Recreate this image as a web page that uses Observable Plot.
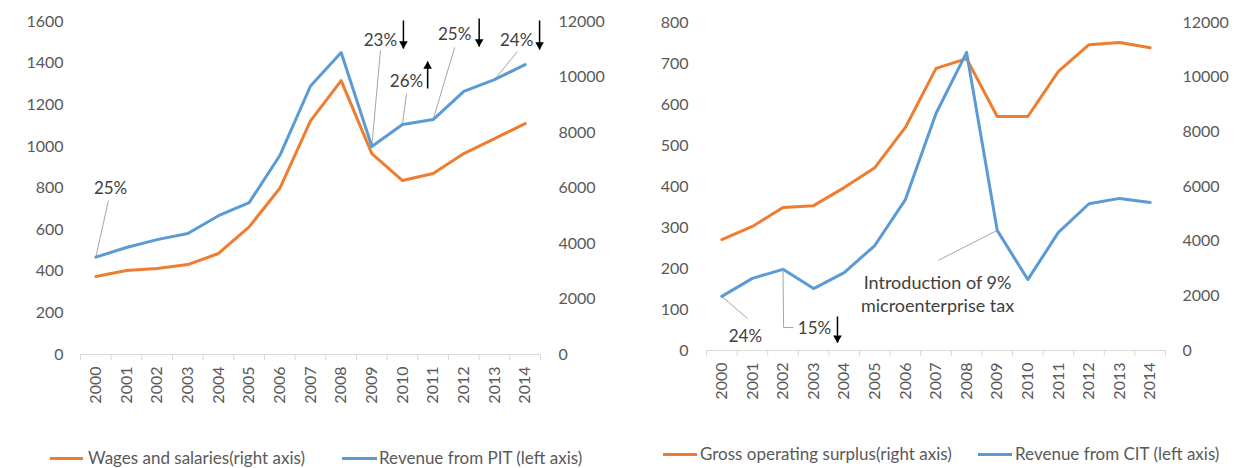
<!DOCTYPE html>
<html><head><meta charset="utf-8">
<script src="https://cdn.jsdelivr.net/npm/d3@7"></script>
<script src="https://cdn.jsdelivr.net/npm/@observablehq/plot@0.6"></script>
<style>
body{margin:0;background:#fff;}
#wrap{position:relative;width:1251px;height:468px;overflow:hidden;background:#fff;}
.chart{position:absolute;top:0;}
.item{position:absolute;display:flex;align-items:center;font:17px/18px Lato,sans-serif;color:#595959;white-space:nowrap;height:18px;}
.sw{display:inline-block;height:3px;}
</style></head><body><div id="wrap"></div>
<script>
const years = ["2000","2001","2002","2003","2004","2005","2006","2007","2008","2009","2010","2011","2012","2013","2014"];
// Left chart
const pitRevenue = [468, 514, 552, 581, 667, 730, 956, 1290, 1451, 999, 1105, 1129, 1264, 1321, 1393];
const wages = [2810, 3030, 3100, 3240, 3640, 4600, 5990, 8420, 9870, 7240, 6270, 6520, 7240, 7780, 8320];
const pitTicks = [0, 200, 400, 600, 800, 1000, 1200, 1400, 1600];
const wageTicks = [0, 2000, 4000, 6000, 8000, 10000, 12000];
// Right chart
const citRevenue = [132, 176, 198, 151, 190, 256, 368, 578, 727, 293, 173, 288, 358, 371, 361];
const gos = [4060, 4540, 5230, 5300, 5960, 6690, 8160, 10320, 10680, 8560, 8560, 10210, 11190, 11270, 11080];
const citTicks = [0, 100, 200, 300, 400, 500, 600, 700, 800];
const gosTicks = [0, 2000, 4000, 6000, 8000, 10000, 12000];

// annotations (data space: x = year index, y = left-axis units)
const pitNotes = [
  {label: "25%", year: 0, tx: 0.48, ty: 807, lx: 0.41, ly: 740},
  {label: "23%", year: 9, tx: 9.28, ty: 1518, lx: 9.28, ly: 1461},
  {label: "26%", year: 10, tx: 10.13, ty: 1321, lx: 10.13, ly: 1254},
  {label: "25%", year: 11, tx: 11.7, ty: 1547, lx: 11.7, ly: 1475},
  {label: "24%", year: 13, tx: 13.72, ty: 1518, lx: 13.75, ly: 1456}
];
const pitArrows = [
  {x: 10.03, from: 1605, to: 1470, dir: "down"},
  {x: 10.82, from: 1278, to: 1408, dir: "up"},
  {x: 12.5, from: 1614, to: 1480, dir: "down"},
  {x: 14.47, from: 1605, to: 1465, dir: "down"}
];
const citNotes = [
  {label: "24%", year: 0, tx: 0.77, ty: 37, lx: 0.84, ly: 78, size: 17},
  {label: "Introduction of 9%\nmicroenterprise tax", year: 9, tx: 7.05, ty: 140, lx: 7.08, ly: 220, size: 18}
];
const citElbow = [{x: 2, y: 198}, {x: 2.02, y: 56}, {x: 2.33, y: 56}];
const citElbowLabel = [{label: "15%", tx: 3.03, ty: 54}];
const citArrows = [{x: 3.78, from: 83, to: 19, dir: "down"}];

const ORANGE = "#ED7D31", BLUE = "#5B9BD5";

function makeChart({primary, secondary, ratio, yMax, leftTicks, rightTicks, notes, arrows, extra, width, height, marginLeft, marginRight, marginTop, marginBottom, padL, padR}) {
  const idx = d3.range(years.length);
  const marks = [
    Plot.ruleY([0], {stroke: "#d9d9d9", strokeWidth: 1}),
    Plot.axisX(d3.range(years.length + 1).map(i => i - 0.5), {tickSize: 6, tickFormat: () => "", stroke: "#d9d9d9", label: null}),
    Plot.axisX(idx, {tickSize: 0, tickPadding: 12, tickRotate: -90, tickFormat: i => years[i], label: null, fontSize: 16, fill: "#595959"}),
    Plot.axisY(leftTicks, {anchor: "left", tickSize: 0, tickPadding: padL, label: null, tickFormat: d => String(d), fontSize: 16, fill: "#595959"}),
    Plot.axisY(rightTicks.map(v => v / ratio), {anchor: "right", tickSize: 0, tickPadding: padR, label: null, tickFormat: d => String(Math.round(d * ratio)), fontSize: 16, fill: "#595959"}),
    Plot.link(notes, {x1: d => d.year, y1: d => primary[d.year], x2: "lx", y2: "ly", stroke: "#a6a6a6", strokeWidth: 1}),
    Plot.line(idx, {x: i => i, y: i => secondary[i] / ratio, stroke: ORANGE, strokeWidth: 3}),
    Plot.line(idx, {x: i => i, y: i => primary[i], stroke: BLUE, strokeWidth: 3}),
    Plot.text(notes, {x: "tx", y: "ty", text: "label", fontSize: d => d.size || 17, fill: "#404040", lineHeight: 1.3}),
    Plot.link(arrows, {x1: "x", x2: "x", y1: "from", y2: "to", stroke: "#000", strokeWidth: 1.5}),
    Plot.dot(arrows.filter(a => a.dir === "down"), {x: "x", y: "to", symbol: "triangle", r: 3.2, fill: "#000", stroke: null, rotate: 180, dy: -4.8}),
    Plot.dot(arrows.filter(a => a.dir === "up"), {x: "x", y: "to", symbol: "triangle", r: 3.2, fill: "#000", stroke: null, dy: 4.8}),
    ...extra
  ];
  return Plot.plot({
    width, height, marginLeft, marginRight, marginTop, marginBottom,
    x: {type: "linear", domain: [-0.5, years.length - 0.5], axis: null},
    y: {domain: [0, yMax], axis: null},
    style: {fontFamily: "Lato, sans-serif", fontSize: "16px", color: "#595959", background: "transparent", overflow: "visible"},
    marks
  });
}

const left = makeChart({
  primary: pitRevenue, secondary: wages, ratio: 12000 / 1600, yMax: 1600,
  leftTicks: pitTicks, rightTicks: wageTicks, notes: pitNotes, arrows: pitArrows, extra: [],
  width: 625, height: 414, marginLeft: 80, marginRight: 85, marginTop: 21, marginBottom: 60, padL: 17, padR: 18
});
const right = makeChart({
  primary: citRevenue, secondary: gos, ratio: 12000 / 800, yMax: 800,
  leftTicks: citTicks, rightTicks: gosTicks, notes: citNotes, arrows: citArrows,
  extra: [
    Plot.line(citElbow, {x: "x", y: "y", stroke: "#a6a6a6", strokeWidth: 1, curve: "linear"}),
    Plot.text(citElbowLabel, {x: "tx", y: "ty", text: "label", fontSize: 17, fill: "#404040"})
  ],
  width: 626, height: 410, marginLeft: 81, marginRight: 86, marginTop: 22, marginBottom: 60, padL: 18, padR: 17
});

const wrap = document.getElementById("wrap");
left.classList.add("chart"); left.style.left = "0px";
right.classList.add("chart"); right.style.left = "625px";
wrap.appendChild(left); wrap.appendChild(right);

const legendItems = [
  {label: "Wages and salaries(right axis)", color: ORANGE, left: 50, sw: 33, gap: 5, cy: 458},
  {label: "Revenue from PIT (left axis)", color: BLUE, left: 342, sw: 35, gap: 2, cy: 458},
  {label: "Gross operating surplus(right axis)", color: ORANGE, left: 663, sw: 34, gap: 3, cy: 454},
  {label: "Revenue from CIT (left axis)", color: BLUE, left: 978, sw: 34, gap: 3, cy: 454}
];
for (const it of legendItems) {
  const d = document.createElement("div");
  d.className = "item";
  d.style.left = it.left + "px";
  d.style.top = (it.cy - 9) + "px";
  const s = document.createElement("span");
  s.className = "sw";
  s.style.width = it.sw + "px";
  s.style.background = it.color;
  s.style.marginRight = it.gap + "px";
  const t = document.createElement("span");
  t.textContent = it.label;
  d.appendChild(s); d.appendChild(t);
  wrap.appendChild(d);
}
</script></body></html>
